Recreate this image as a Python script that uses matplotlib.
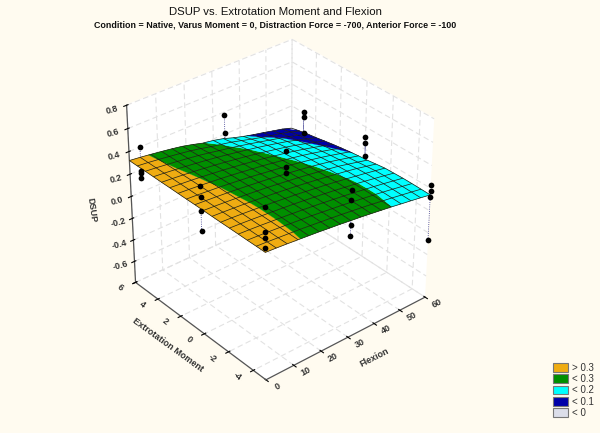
import numpy as np
import matplotlib
matplotlib.use("Agg")
import matplotlib.pyplot as plt
from matplotlib.patches import Patch
from mpl_toolkits.mplot3d import proj3d
from mpl_toolkits.mplot3d.art3d import Poly3DCollection

plt.rcParams['font.family'] = ['Liberation Sans', 'DejaVu Sans']
plt.rcParams['grid.color'] = '#E2E2E2'
plt.rcParams['grid.linestyle'] = (0, (5, 3))
plt.rcParams['grid.linewidth'] = 0.8

# Axis values
flexion_ticks = [0, 10, 20, 30, 40, 50, 60]
ext_ticks = [-4, -2, 0, 2, 4, 6]
ext_tick_labels = ['-4', '-2', '0', '2', '4', '6']
dsup_ticks = [-0.6, -0.4, -0.2, 0.0, 0.2, 0.4, 0.6, 0.8]
dsup_tick_labels = ['-0.6', '-0.4', '-0.2', '0.0', '0.2', '0.4', '0.6', '0.8']

# Surface height read at mesh nodes, one row per flexion, ext moment -5 to 6
mesh_flexion = [0, 3.75, 7.5, 11.25, 15, 18.75, 22.5, 26.25, 30, 33.75, 37.5, 41.25, 45, 48.75, 52.5, 56.25, 60]
mesh_ext = [-5, -4.3125, -3.625, -2.9375, -2.25, -1.5625, -0.875, -0.1875, 0.5,
            1.1875, 1.875, 2.5625, 3.25, 3.9375, 4.625, 5.3125, 6]
mesh_dsup = [
    [.326, .326, .325, .325, .325, .324, .324, .324, .324, .323, .323, .323, .322, .322, .322, .321, .321],
    [.319, .319, .319, .319, .319, .319, .318, .318, .317, .317, .316, .315, .314, .313, .312, .311, .310],
    [.311, .311, .312, .312, .312, .312, .311, .311, .310, .309, .308, .307, .305, .303, .301, .299, .297],
    [.302, .303, .304, .304, .304, .304, .304, .303, .302, .301, .299, .297, .295, .292, .289, .286, .283],
    [.293, .295, .295, .296, .296, .296, .295, .294, .293, .291, .289, .286, .283, .280, .276, .272, .268],
    [.284, .285, .286, .287, .287, .287, .286, .285, .283, .281, .278, .275, .271, .267, .262, .257, .251],
    [.273, .275, .277, .278, .278, .277, .276, .275, .272, .270, .266, .262, .258, .253, .246, .238, .228],
    [.263, .265, .266, .267, .267, .267, .265, .263, .261, .257, .253, .249, .243, .237, .227, .216, .202],
    [.251, .254, .255, .256, .256, .255, .254, .251, .248, .244, .240, .234, .228, .221, .210, .198, .187],
    [.240, .242, .244, .244, .244, .243, .241, .239, .235, .230, .225, .219, .211, .203, .191, .179, .165],
    [.227, .230, .231, .232, .232, .231, .228, .225, .221, .216, .209, .202, .194, .185, .171, .154, .134],
    [.214, .217, .218, .219, .218, .217, .214, .210, .206, .200, .193, .185, .175, .165, .149, .129, .108],
    [.201, .203, .205, .205, .205, .203, .199, .195, .190, .183, .175, .166, .156, .144, .127, .105, .085],
    [.186, .189, .191, .191, .190, .187, .184, .179, .172, .164, .155, .145, .134, .122, .105, .084, .065],
    [.172, .174, .176, .176, .174, .172, .167, .158, .151, .143, .133, .122, .110, .096, .082, .065, .043],
    [.157, .159, .160, .160, .158, .155, .147, .137, .129, .120, .110, .098, .084, .069, .056, .041, .022],
    [.141, .143, .144, .144, .141, .138, .127, .115, .107, .097, .085, .072, .057, .041, .028, .011, -.008],
]

# Measured points
point_flexion = [0, 0, 0, 0, 0, 0, 0, 0, 0, 0, 0, 0,
                 30, 30, 30, 30, 30, 30, 30, 30, 30,
                 60, 60, 60, 60, 60, 60, 60, 60, 60, 60]
point_ext = [5, 5, 5, 5, 0, 0, 0, 0, -5, -5, -5, -5,
             5, 5, 0, 0, 0, -5, -5, -5, -5,
             5, 5, 5, 0, 0, 0, -5, -5, -5, -5]
point_dsup = [.51, .30, .28, .24, .52, .43, .31, .13, .70, .50, .45, .36,
              .48, .32, .50, .36, .31, .51, .43, .21, .12,
              .21, .16, .01, .31, .26, .14, .23, .18, .12, -.27]

# Legend bands, top to bottom
band_labels = ['> 0.3', '< 0.3', '< 0.2', '< 0.1', '< 0']
band_colors = ['#EFAC12', '#008F00', '#00FFFF', '#0000A8', '#DCDEEA']
band_levels = [(0.3, 9), (0.2, 0.3), (0.1, 0.2), (0.0, 0.1), (-9, 0.0)]


def clip_polygon(poly, level, keep_above):
    out = []
    for k in range(len(poly)):
        a, b = poly[k], poly[(k + 1) % len(poly)]
        a_in = a[2] >= level if keep_above else a[2] <= level
        b_in = b[2] >= level if keep_above else b[2] <= level
        if a_in:
            out.append(a)
        if a_in != b_in:
            t = (level - a[2]) / (b[2] - a[2])
            out.append(tuple(a[n] + t * (b[n] - a[n]) for n in range(3)))
    return out


fig = plt.figure(figsize=(6, 4.33), dpi=100, facecolor='#FFFBF0')
ax = fig.add_axes([0.0, 0.039, 0.913, 0.956], projection='3d', computed_zorder=False)
ax.patch.set_alpha(0)
ax.set_proj_type('persp', focal_length=0.85)
ax.view_init(elev=33, azim=-130)
ax.set_box_aspect((1, 1, 1.0), zoom=0.86)

ax.set_xlim(0, 60, view_margin=0)
ax.set_ylim(-5, 6, view_margin=0)
ax.set_zlim(-0.8, 0.8, view_margin=0)

# Surface split along the band levels
fx, ex = np.meshgrid(mesh_flexion, mesh_ext, indexing='ij')
zz = np.array(mesh_dsup)
for (lo, hi), color in zip(band_levels, band_colors):
    polys = []
    for i in range(len(mesh_flexion) - 1):
        for j in range(len(mesh_ext) - 1):
            quad = [(fx[i + a, j + b], ex[i + a, j + b], zz[i + a, j + b])
                    for a, b in [(0, 0), (1, 0), (1, 1), (0, 1)]]
            piece = clip_polygon(quad, lo, True)
            if len(piece) > 2:
                piece = clip_polygon(piece, hi, False)
            if len(piece) > 2:
                polys.append(piece)
    ax.add_collection3d(Poly3DCollection(polys, facecolors=color, edgecolors=color,
                                         linewidths=0.2, zorder=3))
ax.plot_wireframe(fx, ex, zz, rstride=1, cstride=1, color='#1A1A10', linewidth=0.5, zorder=4)

# Dotted lines from each point to the surface, then the points
for f, e, d in zip(point_flexion, point_ext, point_dsup):
    i = mesh_flexion.index(f)
    j = int(np.argmin(np.abs(np.array(mesh_ext) - e)))
    ax.plot([f, f], [e, e], [d, zz[i, j]], color='#30308A', linewidth=0.6, linestyle=':', zorder=2)
ax.scatter(point_flexion, point_ext, point_dsup, c='black', s=17, depthshade=False, zorder=6, linewidths=0)

# Axes styling
for axis in (ax.xaxis, ax.yaxis, ax.zaxis):
    axis.set_pane_color('white')
    axis.pane.set_edgecolor('white')
    axis.line.set_color('#555555')
    axis.line.set_linewidth(0.9)

ax.set_xticks(flexion_ticks)
ax.set_xticklabels([])
ax.set_yticks(ext_ticks)
ax.set_yticklabels([])
ax.set_zticks([-0.8] + dsup_ticks)
ax.set_zticklabels([])
ax.tick_params(length=2)


# Slanted labels are put on screen at the projected spot next to each tick
def slanted(x, y, z, s, rot):
    xp, yp, _ = proj3d.proj_transform(x, y, z, ax.get_proj())
    ax.text2D(xp, yp, s, transform=ax.transData, rotation=rot, rotation_mode='anchor',
              fontsize=6.5, fontweight='bold', color='#333333', ha='center', va='center')


for t in flexion_ticks:
    slanted(t + 0.6, -5.78, -0.8, str(t), 28)
for t, s in zip(ext_ticks, ext_tick_labels):
    slanted(-5.1, t + 0.12, -0.8, s, -37)
for t, s in zip(dsup_ticks, dsup_tick_labels):
    slanted(-4.5, 6.13, t, s, 15)

slanted(29.5, -7.14, -0.8, 'Flexion', 27)
slanted(-11, 0.5, -0.8, 'Extrotation Moment', -36)
fig.text(92 / 600, 1 - 210 / 433, 'DSUP', fontsize=6.5, fontweight='bold', color='#333333',
         rotation=-82, ha='center', va='center')

fig.text(275 / 600, 1 - 12 / 433, 'DSUP vs. Extrotation Moment and Flexion', fontsize=8.2,
         ha='center', va='center', color='#111111')
fig.text(275 / 600, 1 - 25 / 433,
         'Condition = Native, Varus Moment = 0, Distraction Force = -700, Anterior Force = -100',
         fontsize=6.4, fontweight='bold', ha='center', va='center', color='#111111')

handles = [Patch(facecolor=c, edgecolor='#777777', linewidth=0.8) for c in band_colors]
fig.legend(handles, band_labels, loc='lower left', bbox_to_anchor=(553 / 600, 1 - 418 / 433),
           frameon=False, fontsize=7, labelspacing=0.14, handlelength=1.55, handleheight=1.0,
           handletextpad=0.45, borderpad=0, borderaxespad=0, labelcolor='#333333')

fig.savefig('out.png', dpi=100, facecolor=fig.get_facecolor())
